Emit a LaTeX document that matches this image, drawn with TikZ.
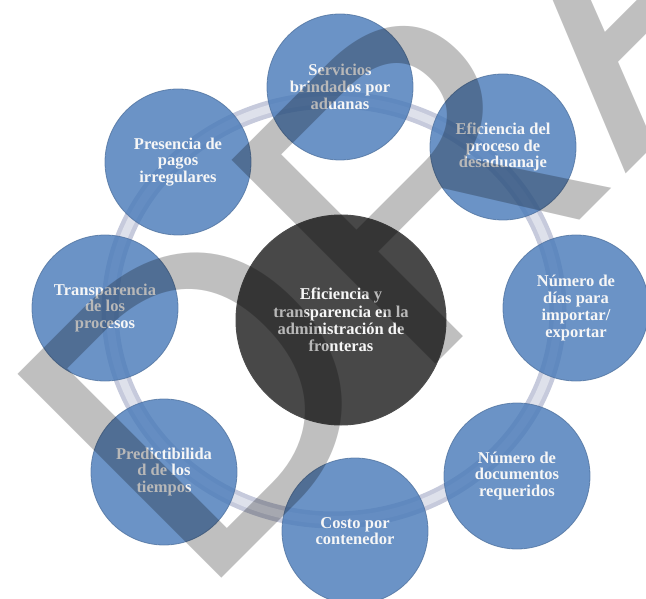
\documentclass[tikz,border=0pt]{standalone}
\usepackage{fontspec}
\setmainfont{Liberation Serif}
\newfontfamily\wmfont{Liberation Sans}
\definecolor{cblue}{RGB}{71,121,184}
\definecolor{cedge}{RGB}{80,115,160}
\definecolor{cdark}{RGB}{72,72,72}
\definecolor{ringout}{RGB}{198,202,220}
\definecolor{ringin}{RGB}{222,225,235}
\definecolor{ctext}{RGB}{246,246,246}
\begin{document}
\begin{tikzpicture}[x=1pt,y=-1pt,
  outer/.style={circle, minimum size=146pt, inner sep=0pt, fill=cblue, fill opacity=0.8,
    draw=cedge, draw opacity=0.8, line width=0.8pt, text=ctext, text opacity=1,
    font=\fontsize{16.5}{16.7}\selectfont\bfseries, align=center},
  hub/.style={circle, minimum size=210pt, inner sep=0pt, fill=cdark, draw=black!70,
    line width=1pt, text=ctext, font=\fontsize{16.5}{17.3}\selectfont\bfseries, align=center},
  wmark/.style={anchor=base west, inner sep=0pt, rotate=45, text=black, text opacity=0.25,
    font=\wmfont\fontsize{419}{419}\selectfont}]
\useasboundingbox (0,0) rectangle (646,599);
\fill[white] (0,0) rectangle (646,599);
% ring
\draw[ringout, line width=17pt] (334,310) ellipse [x radius=224pt, y radius=210pt];
\draw[ringin, line width=8pt] (334,310) ellipse [x radius=224pt, y radius=210pt];
% hub
\node[hub] (c) at (341,320) {Eficiencia y\\transparencia en la\\administración de\\fronteras};
% outer circles
\node[outer] (s) at (340,87) {Servicios\\brindados por\\aduanas};
\node[outer] (e) at (503,147) {Eficiencia del\\proceso de\\desaduanaje};
\node[outer] (n) at (576,308) {Número de\\días para\\importar/\\exportar};
\node[outer] (d) at (517,476) {Número de\\documentos\\requeridos};
\node[outer] (k) at (355,531) {Costo por\\contenedor};
\node[outer] (p) at (164,472) {Predictibilida\\d de los\\tiempos};
\node[outer] (t) at (105,308) {Transparencia\\de los\\procesos};
\node[outer] (g) at (178,162) {Presencia de\\pagos\\irregulares};
% watermark "DRAFT", each letter at its own origin along the 45 degree baseline
\begin{scope}
\clip (0,0) rectangle (646,599);
\node[wmark] (wd) at (197.4,602.6) {D};
\node[wmark] (wr) at (411.3,388.7) {R};
\node[wmark] (wa) at (625.2,174.8) {AFT};
\end{scope}
\end{tikzpicture}
\end{document}
